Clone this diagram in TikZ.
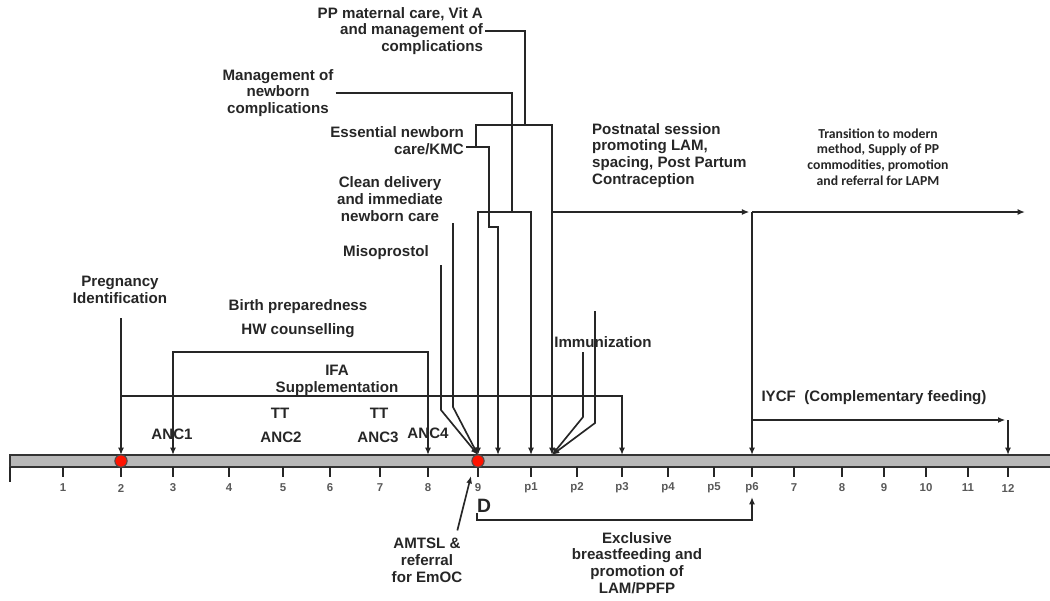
\documentclass[tikz,border=0pt]{standalone}
\usepackage{fontspec}
\setmainfont{Liberation Sans}
\newfontfamily\carlito{Carlito}
\usetikzlibrary{arrows.meta,positioning}

\tikzset{
  lbl/.style={font=\fontsize{8.6}{9.6}\selectfont\bfseries, align=center, inner sep=1pt, text=black!85},
  tick/.style={font=\fontsize{6.5}{7}\selectfont\bfseries, text=black!65, inner sep=0pt},
  line/.style={line width=0.95pt, black!85},
  arr/.style={line, -{Latex[length=4.2pt,width=3.4pt]}},
  dot/.style={circle, draw=black!70, fill=red!85!orange, minimum size=7pt, inner sep=0pt, line width=0.6pt},
  bar/.style={draw=black!80, fill=black!28, line width=0.9pt},
}

\begin{document}
\begin{tikzpicture}[x=0.02cm, y=-0.02cm]
\useasboundingbox (0,0) rectangle (1050,600);

% time bar
\draw[bar] (10,455) rectangle (1054,467);
\draw[line] (10,467) -- (10,482);
\foreach \x/\t [count=\i] in {63/1,121/2,173/3,229/4,283/5,330/6,380/7,428/8,478/9,531/p1,577/p2,622/p3,668/p4,714/p5,752/p6,794/7,842/8,884/9,926/10,968/11,1008/12}{
  \draw[line] (\x,467) -- (\x,477);
  \node[tick] (t\i) at (\x,488) {\t};
  \coordinate (b\i) at (\x,455);
}

% labels
\node[lbl] (preg) at (120,290) {Pregnancy\\Identification};
\node[lbl] (birth) at (298,307) {Birth preparedness};
\node[lbl] (hw) at (298,331) {HW counselling};
\node[lbl] (ifa) at (337,380) {IFA\\Supplementation};
\node[lbl] (tt2) at (280,413) {TT};
\node[lbl] (tt3) at (379,413) {TT};
\node[lbl] (anc1) at (172,434) {ANC1};
\node[lbl] (anc2) at (281,437) {ANC2};
\node[lbl] (anc3) at (378,437) {ANC3};
\node[lbl] (anc4) at (428,433) {ANC4};
\node[lbl, align=right, anchor=east] (ppm) at (485,31) {PP maternal care, Vit A\\and management of\\complications};
\node[lbl] (mgmt) at (278,93) {Management of\\newborn\\complications};
\node[lbl, align=right, anchor=east] (ess) at (466,141) {Essential newborn\\care/KMC};
\node[lbl] (clean) at (390,199) {Clean delivery\\and immediate\\newborn care};
\node[lbl] (miso) at (386,253) {Misoprostol};
\node[lbl] (immz) at (603,342) {Immunization};
\node[lbl, align=left, anchor=north west] (pn) at (590,121) {Postnatal session\\promoting LAM,\\spacing, Post Partum\\Contraception};
\node[font=\carlito\fontsize{7.8}{8.9}\selectfont\bfseries, align=center, text=black!85] (trans) at (878,157) {Transition to modern\\method, Supply of PP\\commodities, promotion\\and referral for LAPM};
\node[lbl] (iycf) at (874,398) {IYCF\ \ (Complementary feeding)};
\node[lbl] (amtsl) at (427,560) {AMTSL \&\\referral\\for EmOC};
\node[lbl] (ebf) at (637,563) {Exclusive\\breastfeeding and\\promotion of\\LAM/PPFP};
\node[font=\fontsize{11}{11}\selectfont\bfseries, inner sep=0pt, text=black!85] (dd) at (484,506) {D};

% junctions
\coordinate (pregtop) at (121,318);
\coordinate (hwbar) at (298,352);
\coordinate (ifal) at (121,396);
\coordinate (pj) at (525,125);
\coordinate (esj) at (476,147);
\coordinate (mj) at (512,212);
\coordinate (pnl) at (552,212);
\coordinate (p6j) at (752,212);
\coordinate (pnr) at (1025,212);
\coordinate (dlv) at (453,223);
\coordinate (mis) at (441,265);
\coordinate (imma) at (583,352);
\coordinate (immb) at (595,311);
\coordinate (bimm) at (552,455);
\coordinate (bess) at (498,455);
\coordinate (iyl) at (752,420);
\coordinate (iyr) at (1008,420);
\coordinate (amtip) at (471,476);
\coordinate (ebfr) at (752,497);

% antenatal
\draw[arr] (pregtop) -- (b2);
\draw[arr] (hwbar) -| (b3);
\draw[arr] (hwbar) -| (b8);
\draw[arr] (ifal) -| (b12);

% delivery
\draw[arr] (mis) -- ++(0,145) -- (b9);
\draw[arr] (dlv) -- ++(0,184) -- (b9);
\draw[line] (mgmt.east) -| (mj);
\draw[arr] (mj) -| (b9);
\draw[arr] (mj) -| (b10);
\draw[line] (ppm.east) -| (pj);
\draw[line] (pj) -| (esj);
\draw[arr] (pj) -| (bimm);
\draw[arr] (ess.east |- esj) -- ++(23,0) -- ++(0,80) -- ++(9,0) -- (bess);

% postnatal
\draw[arr, shorten >=1.5pt] (pnl) -- (p6j);
\draw[arr] (p6j) -- (pnr);
\draw[arr] (p6j) -- (b15);
\draw[arr] (imma) -- ++(0,65) -- (bimm);
\draw[arr] (immb) -- ++(0,112) -- (bimm);
\draw[arr, shorten >=1.5pt] (iyl) -- (iyr);
\draw[arr] (iyr) -- (b21);
\draw[arr] ([xshift=-4pt,yshift=3pt]amtsl.north east) -- (amtip);
\draw[arr] (dd.south west) -- ++(0,7) -| (ebfr);

\node[dot] (d2) at (121,461) {};
\node[dot] (d9) at (478,461) {};
\end{tikzpicture}
\end{document}
